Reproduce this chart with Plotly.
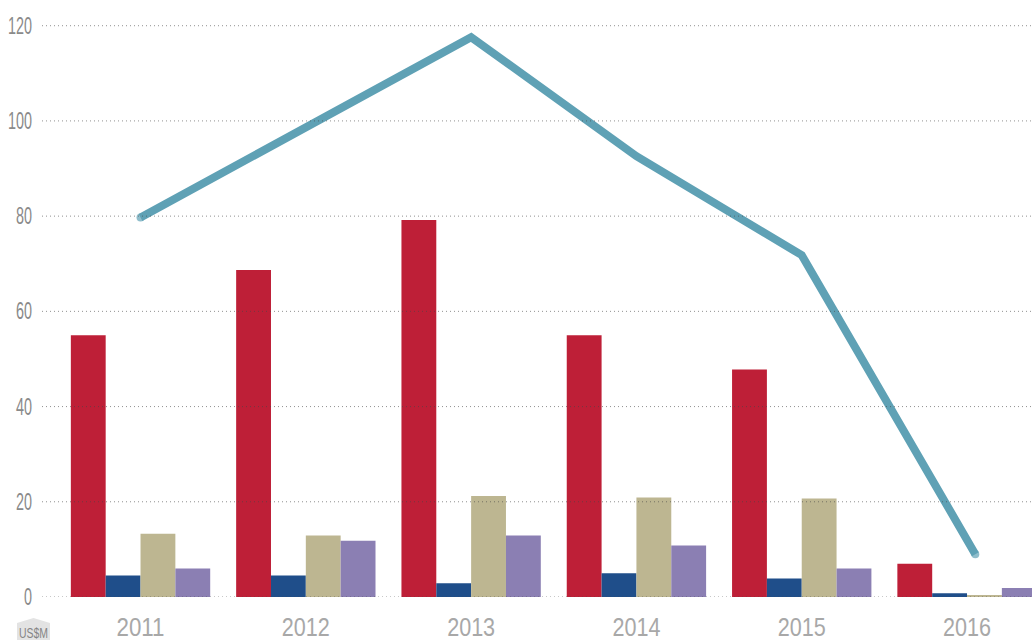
import plotly.graph_objects as go

years = [2011, 2012, 2013, 2014, 2015, 2016]
red = [55, 68.7, 79.2, 55, 47.8, 7]
blue = [4.5, 4.5, 2.9, 5, 3.9, 0.8]
tan = [13.3, 12.9, 21.2, 20.9, 20.7, 0.4]
purple = [6, 11.8, 12.9, 10.8, 6, 1.9]
line_x = [2011, 2012, 2013, 2014, 2015, 2016.05]
line_y = [79.7, 98.7, 117.6, 92.6, 71.8, 9]
y_ticks = [0, 20, 40, 60, 80, 100, 120]

FONT = "Liberation Sans"
fig = go.Figure()
for vals, col in [(red, "#be1f37"), (blue, "#1f4e8a"), (tan, "#bdb691"), (purple, "#8b7fb3")]:
    fig.add_bar(x=years, y=vals, marker=dict(color=col, line=dict(width=0)))
fig.add_scatter(x=line_x, y=line_y, mode="lines+markers",
                line=dict(color="#5fa1b5", width=8),
                marker=dict(color="#5fa1b5", size=[8, 0, 0, 0, 0, 8], line=dict(width=0)))
shapes = [dict(type="path", xref="paper", yref="paper",
               path="M -0.02525 -0.08 L -0.02525 -0.0436 L -0.0086 -0.0352 L 0.00808 -0.0436 L 0.00808 -0.08 Z",
               fillcolor="#e3e3e3", line=dict(width=0), layer="below")]
for t in y_ticks:
    shapes.append(dict(type="line", xref="paper", yref="y", x0=0, x1=1, y0=t, y1=t, layer="above",
                       line=dict(color="rgba(70,70,70,0.6)", width=1, dash="1px,3px")))
fig.update_layout(
    width=1032, height=640, autosize=False, showlegend=False,
    paper_bgcolor="white", plot_bgcolor="white",
    margin=dict(l=42, r=0, t=0, b=43),
    barmode="group", bargap=0.157, bargroupgap=0,
    xaxis=dict(range=[2010.404, 2016.393], tickvals=years, ticktext=[str(y) for y in years],
               automargin=False, showgrid=False, zeroline=False, showline=False, ticks="",
               ticklabelstandoff=13,
               tickfont=dict(family=FONT, size=25, color="#a8a8a8")),
    yaxis=dict(range=[0, 125.4], tickvals=y_ticks, showgrid=False, zeroline=False, showline=False,
               automargin=False, ticks="", ticklabelstandoff=9,
               tickfont=dict(family=FONT, size=23, color="#8a8a8a")),
    shapes=shapes,
    annotations=[dict(text="US$M", xref="paper", yref="paper", x=-0.0086, y=-0.0436, yanchor="top",
                      xanchor="center", showarrow=False, font=dict(family=FONT, size=14, color="#858585"))],
)
squeeze = """
document.body.style.margin = '0';
function fit(sel, w) {
  document.querySelectorAll(sel).forEach(function (t) {
    t.setAttribute('textLength', w(t.textContent));
    t.setAttribute('lengthAdjust', 'spacingAndGlyphs');
  });
}
fit('.xtick text', function (s) { return 48; });
fit('.ytick text', function (s) { return s.length * 8; });
fit('.annotation-text', function (s) { return 29; });
"""
fig.write_html("out.html", post_script=squeeze, config={"displayModeBar": False})
